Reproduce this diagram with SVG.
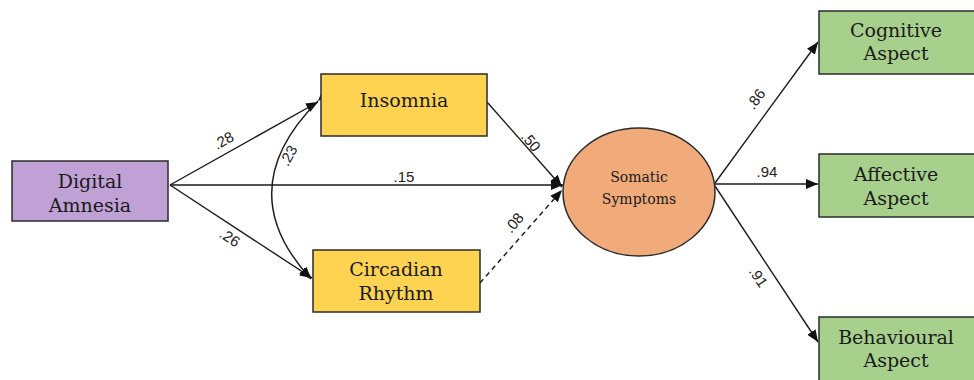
<svg xmlns="http://www.w3.org/2000/svg" width="974" height="380" viewBox="0 0 974 380">
<style>
.node{stroke:#2b2b2b;stroke-width:1.5}
.t{font-family:"DejaVu Serif","Liberation Serif",serif;font-size:19px;fill:#1a1a1a;text-anchor:middle}
.ts{font-family:"DejaVu Serif","Liberation Serif",serif;font-size:14px;fill:#1a1a1a;text-anchor:middle}
.l{font-family:"Liberation Sans",Arial,sans-serif;font-size:15px;fill:#222;text-anchor:middle}
.e{stroke:#1a1a1a;stroke-width:1.4;fill:none}
</style>
<defs>
<marker id="ah" markerUnits="userSpaceOnUse" markerWidth="14" markerHeight="10" refX="12" refY="5" orient="auto">
<path d="M0,0 L12,5 L0,10 z" fill="#111"/>
</marker>
</defs>
<rect width="974" height="380" fill="#ffffff"/>
<g id="connectors">
<line class="e" x1="170" y1="185" x2="318" y2="102" marker-end="url(#ah)"/>
<line class="e" x1="170" y1="185" x2="312" y2="278" marker-end="url(#ah)"/>
<line class="e" x1="170" y1="185" x2="563" y2="185" marker-end="url(#ah)"/>
<path class="e" d="M318,101 Q229,190 311,279" marker-start="url(#ah)" marker-end="url(#ah)"/>
<line class="e" x1="487" y1="102" x2="562" y2="187" marker-end="url(#ah)"/>
<line class="e" x1="480" y1="283" x2="562" y2="190" stroke-dasharray="5,4" marker-end="url(#ah)"/>
<line class="e" x1="715" y1="183" x2="818" y2="42" marker-end="url(#ah)"/>
<line class="e" x1="715" y1="184" x2="818" y2="184" marker-end="url(#ah)"/>
<line class="e" x1="715" y1="186" x2="818" y2="342" marker-end="url(#ah)"/>
<text class="l" transform="translate(226,145) rotate(-29)">.28</text>
<text class="l" transform="translate(227,242) rotate(33)">.26</text>
<text class="l" transform="translate(293,158) rotate(-62)">.23</text>
<text class="l" x="404" y="182">.15</text>
<text class="l" transform="translate(527,145) rotate(50)">.50</text>
<text class="l" transform="translate(518,226) rotate(-50)">.08</text>
<text class="l" transform="translate(760,102) rotate(-54)">.86</text>
<text class="l" x="767" y="177">.94</text>
<text class="l" transform="translate(754,280) rotate(56)">.91</text>
</g>
<g id="digital-amnesia">
<rect class="node" x="12" y="161" width="156" height="60" fill="#c0a1d5"/>
<text class="t" x="90" y="188">Digital</text>
<text class="t" x="90" y="212">Amnesia</text>
</g>
<g id="insomnia">
<rect class="node" x="321" y="74" width="166" height="62" fill="#fdd351"/>
<text class="t" x="404" y="107">Insomnia</text>
</g>
<g id="circadian-rhythm">
<rect class="node" x="313" y="250" width="167" height="62" fill="#fdd351"/>
<text class="t" x="396" y="276">Circadian</text>
<text class="t" x="396" y="300">Rhythm</text>
</g>
<g id="somatic-symptoms">
<ellipse class="node" cx="639" cy="192" rx="76" ry="64" fill="#f1aa7a"/>
<text class="ts" x="639" y="182">Somatic</text>
<text class="ts" x="639" y="204">Symptoms</text>
</g>
<g id="cognitive-aspect">
<rect class="node" x="819" y="11" width="170" height="63" fill="#a8d08d"/>
<text class="t" x="896" y="37">Cognitive</text>
<text class="t" x="896" y="60">Aspect</text>
</g>
<g id="affective-aspect">
<rect class="node" x="819" y="154" width="170" height="63" fill="#a8d08d"/>
<text class="t" x="896" y="181">Affective</text>
<text class="t" x="896" y="205">Aspect</text>
</g>
<g id="behavioural-aspect">
<rect class="node" x="819" y="317" width="170" height="70" fill="#a8d08d"/>
<text class="t" x="896" y="344">Behavioural</text>
<text class="t" x="896" y="367">Aspect</text>
</g>
</svg>
